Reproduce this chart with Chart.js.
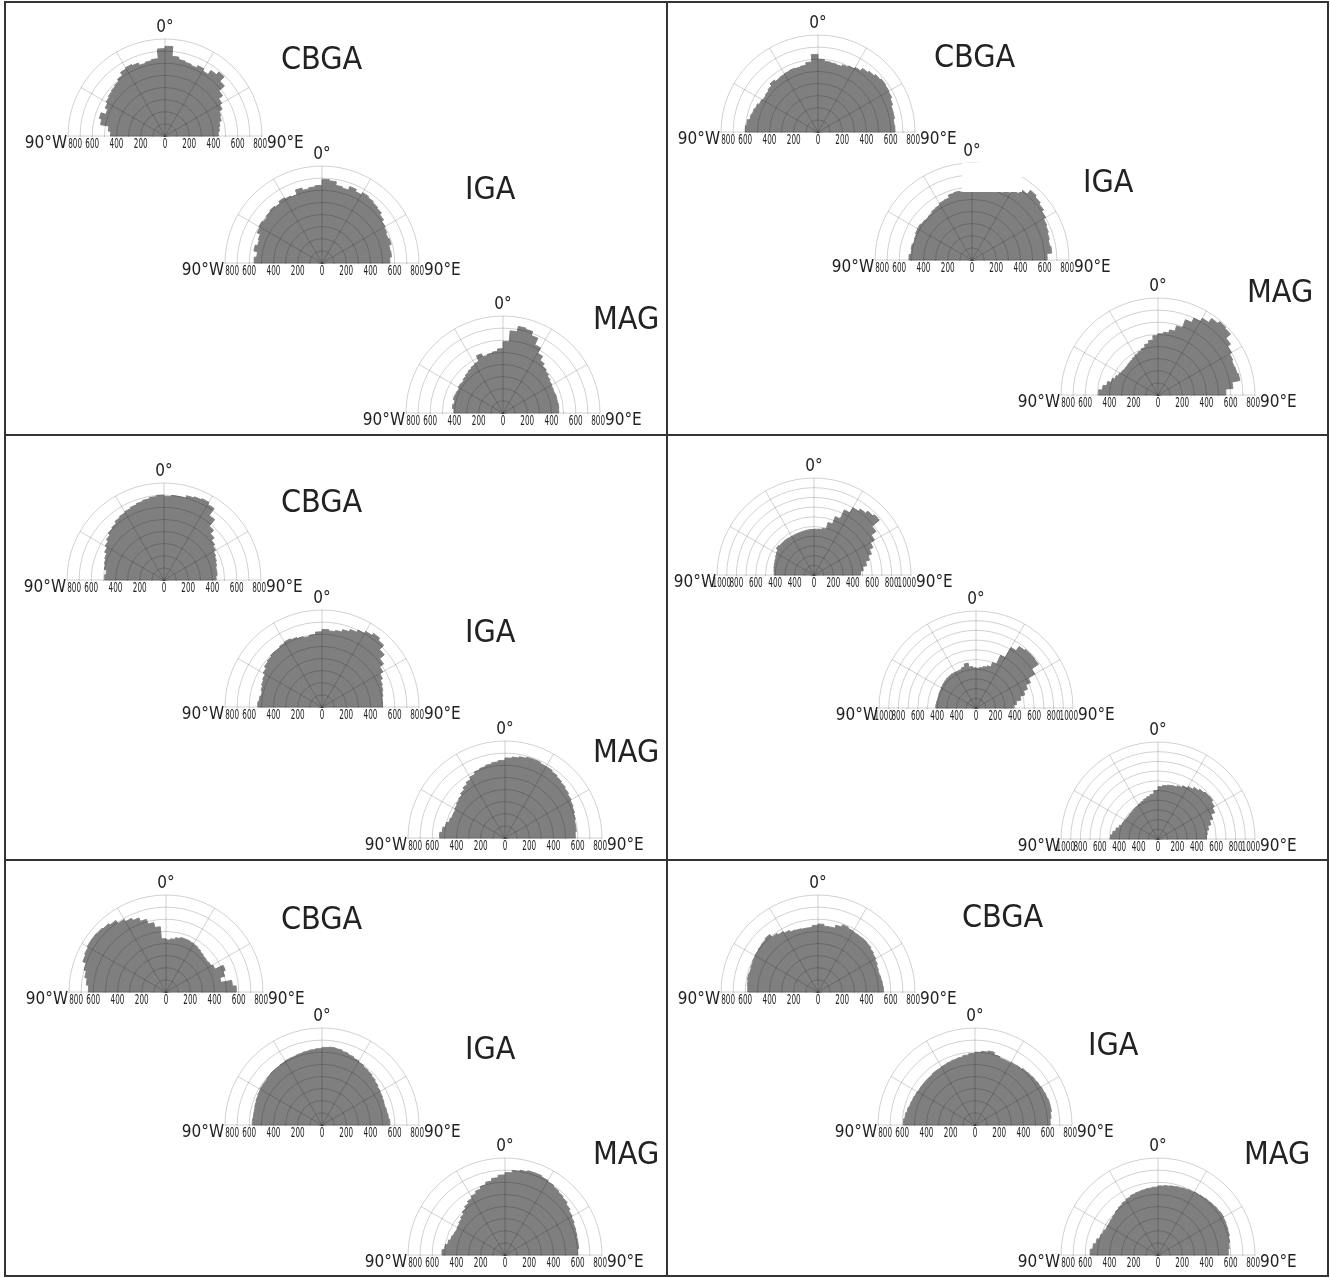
<!DOCTYPE html>
<html>
<head>
<meta charset="utf-8">
<script src="https://cdn.jsdelivr.net/npm/chart.js@4.4.0/dist/chart.umd.min.js"></script>
<style>
  body { margin:0; background:#fff; width:1330px; height:1278px; position:relative; overflow:hidden;
         font-family:'Liberation Sans Narrow','DejaVu Sans Condensed','Liberation Sans',sans-serif; }
  .frame { position:absolute; background:#333; }
  .plot { position:absolute; }
  .title { position:absolute; font-size:32px; line-height:1; color:#222; }
  .mask { position:absolute; background:#fff; }
</style>
</head>
<body>
<div id="page"></div>
<script>
/* half-polar histograms, 5 degree bins from 90W to 90E */
const BINS = [-87.5,-82.5,-77.5,-72.5,-67.5,-62.5,-57.5,-52.5,-47.5,-42.5,-37.5,-32.5,-27.5,-22.5,-17.5,-12.5,-7.5,-2.5,
              2.5,7.5,12.5,17.5,22.5,27.5,32.5,37.5,42.5,47.5,52.5,57.5,62.5,67.5,72.5,77.5,82.5,87.5];

const TICKS_800 = ['800','600','400','200','0','200','400','600','800'];
const TICK_AT_800 = [-800,-600,-400,-200,0,200,400,600,800];
const TICKS_1000 = ['1000','800','600','400','400','0','200','400','600','800','1000'];
const TICK_AT_1000 = [-1000,-800,-600,-400,-200,0,200,400,600,800,1000];

// top-left panel
const TL_CBGA = [450,470,540,560,520,545,560,570,580,590,610,640,650,640,620,630,640,720,
                 740,660,640,630,620,640,620,660,690,640,580,540,520,490,480,460,450,440];
const TL_IGA  = [560,540,570,550,560,590,600,590,600,610,600,620,610,600,640,620,630,640,
                 690,680,650,640,670,650,670,660,650,640,620,600,590,580,590,570,575,560];
const TL_MAG  = [405,420,410,425,420,415,425,420,430,440,450,460,470,520,490,500,510,530,
                 590,680,725,715,680,620,570,530,505,490,475,465,458,455,460,458,462,460];
// top-right panel
const TR_CBGA = [600,590,570,560,550,535,525,530,540,560,545,550,555,560,555,560,580,640,
                 600,585,580,575,590,600,615,640,655,670,680,675,670,655,640,640,630,635];
const TR_IGA  = [520,505,510,500,505,515,518,510,505,510,520,525,540,545,570,576,567,563,
                 563,567,576,589,608,634,667,709,750,735,720,700,680,670,660,650,660,620];
const TR_MAG  = [490,460,430,400,380,365,355,350,350,355,360,370,380,390,405,430,455,490,
                 505,520,545,590,660,700,730,770,790,780,730,700,680,670,675,685,620,560];
// middle-left panel
const ML_CBGA = [490,480,500,510,520,540,560,580,600,610,630,640,650,660,670,680,690,700,
                 690,700,700,720,730,740,720,650,580,540,510,490,470,460,450,440,440,430];
const ML_IGA  = [530,520,510,520,530,540,560,580,590,600,600,610,620,610,600,590,600,620,
                 640,630,640,660,680,700,720,740,720,670,620,580,550,530,520,510,500,500];
const ML_MAG  = [540,520,500,480,470,470,480,490,500,520,540,560,580,600,610,620,630,640,
                 660,670,680,690,690,680,680,670,660,650,640,630,620,610,600,590,590,580];
// middle-right panel (1000 scale)
const MR_CBGA = [410,415,420,425,430,440,450,475,465,465,465,460,460,460,462,465,468,470,
                 472,475,490,560,640,740,800,830,860,880,780,720,670,630,590,550,510,480];
const MR_IGA  = [415,410,405,405,408,410,415,420,425,428,430,428,425,425,440,470,430,415,
                 410,420,435,450,500,600,720,775,790,790,785,700,620,565,520,470,420,390];
const MR_3    = [490,470,445,420,400,392,388,385,388,390,395,400,410,420,435,450,465,500,
                 540,555,565,570,585,605,625,650,670,685,690,670,645,600,565,530,510,500];
// bottom-left panel
const BL_CBGA = [640,660,680,700,730,740,750,750,745,735,720,690,670,650,620,580,540,440,
                 430,440,455,465,465,460,455,445,435,428,425,430,445,520,500,460,550,580];
const BL_IGA  = [575,570,570,575,580,585,590,590,595,600,600,605,610,610,615,620,625,630,
                 640,645,640,630,620,610,600,590,585,575,565,555,550,545,540,545,550,560];
const BL_MAG  = [520,500,480,465,455,450,455,465,480,500,520,540,560,580,600,620,640,660,
                 680,700,710,720,720,710,700,690,680,670,655,640,630,620,615,610,610,600];
// bottom-right panel
const BR_CBGA = [580,585,590,585,590,595,600,605,610,620,590,575,560,545,540,535,535,550,
                 560,545,545,570,590,580,575,575,575,570,560,550,540,530,525,530,535,540];
const BR_IGA  = [590,580,570,560,555,550,545,545,545,545,550,550,555,560,565,570,580,590,
                 600,610,620,600,590,590,595,600,610,615,620,625,630,635,640,640,630,620];
const BR_MAG  = [560,540,520,500,490,480,480,485,490,500,510,520,530,540,545,550,555,560,
                 570,575,580,585,590,595,600,605,610,615,620,625,620,615,610,600,590,580];

// where each half-circle sits on the page (centre of the baseline)
const PLOTS = [
  { data: TL_CBGA, max: 800, cx: 165, cy: 136 },
  { data: TL_IGA,  max: 800, cx: 322, cy: 263 },
  { data: TL_MAG,  max: 800, cx: 503, cy: 413 },
  { data: TR_CBGA, max: 800, cx: 818, cy: 132 },
  { data: TR_IGA,  max: 800, cx: 972, cy: 260 },
  { data: TR_MAG,  max: 800, cx: 1158, cy: 395 },
  { data: ML_CBGA, max: 800, cx: 164, cy: 580 },
  { data: ML_IGA,  max: 800, cx: 322, cy: 707 },
  { data: ML_MAG,  max: 800, cx: 505, cy: 838 },
  { data: MR_CBGA, max: 1000, cx: 814, cy: 575 },
  { data: MR_IGA,  max: 1000, cx: 976, cy: 708 },
  { data: MR_3,    max: 1000, cx: 1158, cy: 839 },
  { data: BL_CBGA, max: 800, cx: 166, cy: 992 },
  { data: BL_IGA,  max: 800, cx: 322, cy: 1125 },
  { data: BL_MAG,  max: 800, cx: 505, cy: 1255 },
  { data: BR_CBGA, max: 800, cx: 818, cy: 992 },
  { data: BR_IGA,  max: 800, cx: 975, cy: 1125 },
  { data: BR_MAG,  max: 800, cx: 1158, cy: 1255 }
];

const TITLES = [
  ['CBGA', 281, 42], ['IGA', 465, 172], ['MAG', 593, 302],
  ['CBGA', 934, 40], ['IGA', 1083, 165], ['MAG', 1247, 275],
  ['CBGA', 281, 485], ['IGA', 465, 615], ['MAG', 593, 735],
  ['CBGA', 281, 902], ['IGA', 465, 1032], ['MAG', 593, 1137],
  ['CBGA', 962, 900], ['IGA', 1088, 1028], ['MAG', 1244, 1137]
];

const FONT = "'Liberation Sans Narrow','DejaVu Sans Condensed','Liberation Sans',sans-serif";
const BAR = '#7f7f7f';
const GRID = 'rgba(0,0,0,0.18)';
const R = 97, PAD_X = 83, PAD_Y = 28;
const CW = 2 * (R + PAD_X), CH = 2 * (R + PAD_Y);
const DIGIT_W = 4.6;

const page = document.getElementById('page');
function box(cls, l, t, w, h){
  const d = document.createElement('div');
  d.className = cls;
  Object.assign(d.style, { left: l+'px', top: t+'px', width: w+'px', height: h+'px' });
  page.appendChild(d);
  return d;
}

// squeeze a tick label to the narrow digit width of the source figure
function condText(ctx, txt, x, y, align){
  const sx = DIGIT_W * txt.length / ctx.measureText(txt).width;
  ctx.save();
  ctx.translate(x, y);
  ctx.scale(sx, 1);
  ctx.textAlign = align;
  ctx.fillText(txt, 0, 0);
  ctx.restore();
}

const halfPolar = {
  id: 'halfPolar',
  afterDraw(chart, args, opts){
    const { ctx } = chart;
    const sc = chart.scales.r;
    const cx = sc.xCenter, cy = sc.yCenter, rr = sc.drawingArea;
    ctx.save();
    ctx.clearRect(0, cy + 1, chart.width, chart.height);
    ctx.fillStyle = '#222';
    ctx.textBaseline = 'alphabetic';
    ctx.font = '17px ' + FONT;
    ctx.textAlign = 'center';
    ctx.fillText('0°', cx, cy - rr - 7);
    ctx.textAlign = 'right';
    ctx.fillText('90°W', cx - rr - 1, cy + 12);
    ctx.textAlign = 'left';
    ctx.fillText('90°E', cx + rr + 5, cy + 12);
    ctx.font = '14px ' + FONT;
    const n = opts.labels.length;
    opts.labels.forEach((txt, i) => {
      const v = opts.at[i];
      const x = cx + Math.sign(v) * sc.getDistanceFromCenterForValue(Math.abs(v));
      if (i === 0) condText(ctx, txt, x + 14, cy + 12, 'right');
      else if (i === n - 1) condText(ctx, txt, x + 5, cy + 12, 'right');
      else condText(ctx, txt, x, cy + 12, 'center');
    });
    ctx.restore();
  }
};

function drawHalf(p){
  const cv = document.createElement('canvas');
  cv.width = CW; cv.height = CH;
  cv.className = 'plot';
  cv.style.left = (p.cx - PAD_X - R) + 'px';
  cv.style.top = (p.cy - PAD_Y - R) + 'px';
  page.appendChild(cv);
  const big = p.max === 1000;
  new Chart(cv, {
    type: 'polarArea',
    data: {
      labels: BINS,
      datasets: [{ data: p.data, angle: 5, backgroundColor: BAR, borderColor: BAR, borderWidth: 1 }]
    },
    options: {
      responsive: false, animation: false,
      layout: { padding: { left: PAD_X, right: PAD_X, top: PAD_Y, bottom: PAD_Y } },
      plugins: {
        legend: { display: false }, tooltip: { enabled: false },
        halfPolar: { labels: big ? TICKS_1000 : TICKS_800, at: big ? TICK_AT_1000 : TICK_AT_800 }
      },
      scales: {
        r: {
          min: 0, max: p.max, startAngle: -90,
          ticks: { display: false, stepSize: 100 },
          grid: { circular: true, color: GRID, lineWidth: 1, z: 1 },
          angleLines: { display: true, lineWidth: 1,
                        color: c => c.index % 3 === 0 ? GRID : 'rgba(0,0,0,0)' },
          pointLabels: { display: false }
        }
      }
    },
    plugins: [halfPolar]
  });
}

PLOTS.forEach(drawHalf);

// the source figure has a blank patch over the top of the upper-right IGA plot
box('mask', 962, 163, 60, 29);

TITLES.forEach(([t, l, top]) => {
  const d = box('title', l, top, 120, 36);
  d.textContent = t;
});

// panel frame
box('frame', 4, 1, 1325, 2);
box('frame', 4, 1275, 1325, 2);
box('frame', 4, 1, 2, 1276);
box('frame', 1327, 1, 2, 1276);
box('frame', 666, 1, 2, 1276);
box('frame', 4, 434, 1325, 2);
box('frame', 4, 859, 1325, 2);
</script>
</body>
</html>
